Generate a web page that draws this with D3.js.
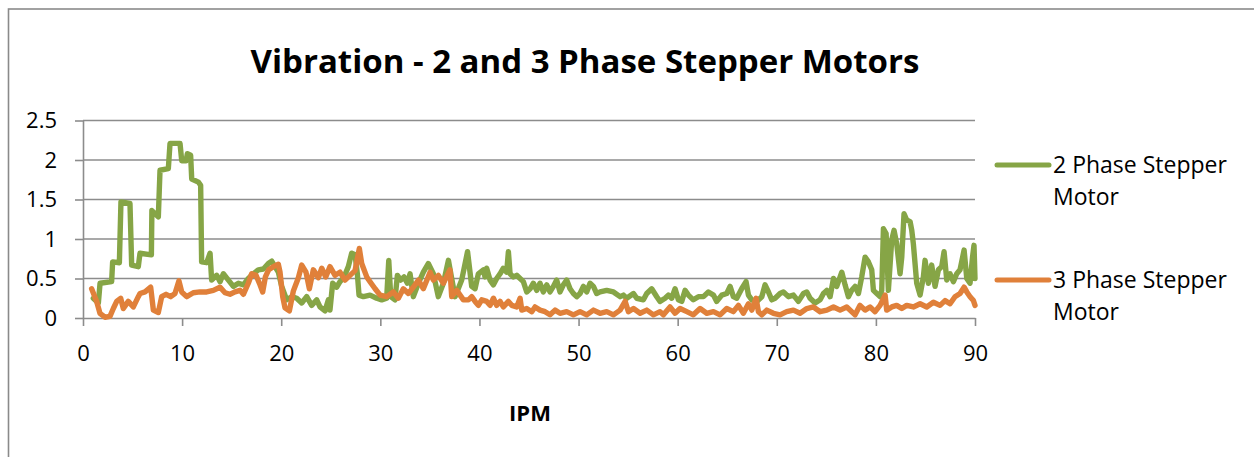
<!DOCTYPE html>
<meta charset="utf-8">
<script src="https://d3js.org/d3.v7.min.js"></script>
<style>
  body { margin: 0; background: #fff; font-family: 'Open Sans', sans-serif; }
  .grid line { stroke: #8c8c8c; stroke-width: 1.6; }
  .axis .domain, .axis line { stroke: #8c8c8c; stroke-width: 1.6; }
  .axis text { font-family: 'Open Sans', sans-serif; font-size: 22px; fill: #000; }
</style>
<body>
<svg width="1254" height="457"></svg>
</body>
<script>

// 2 Phase Stepper Motor
var ipm2 = [1.04,1.55,1.72,2.89,2.99,3.67,3.83,4.74,4.91,5.58,5.75,6.90,6.95,7.60,7.77,8.61,8.78,9.79,9.96,10.40,
  10.53,10.86,10.97,11.64,11.87,11.97,12.48,12.82,12.98,13.49,13.83,14.16,14.67,15.17,15.68,16.18,16.68,17.19,17.69,18.20,
  18.70,19.04,19.37,19.71,20.05,20.55,21.06,21.56,22.07,22.57,23.07,23.58,23.91,24.42,24.76,24.92,25.19,25.60,25.93,26.34,
  26.77,27.11,27.45,27.68,27.85,28.29,28.96,29.63,30.14,30.64,30.85,31.05,31.48,31.72,32.05,32.39,32.73,33.00,33.33,33.84,
  34.34,34.84,35.35,35.85,36.36,36.87,37.20,37.54,38.21,38.80,39.22,39.56,39.89,40.40,40.56,40.73,41.07,41.41,41.74,42.08,
  42.41,42.75,42.92,43.09,43.43,43.76,44.10,44.43,44.77,45.11,45.44,45.78,46.11,46.45,46.79,47.12,47.46,47.79,48.13,48.47,
  48.80,49.14,49.48,49.81,50.15,50.49,50.82,51.16,51.50,51.83,52.17,52.84,53.52,54.19,54.53,54.86,55.54,55.87,56.54,56.88,
  57.38,57.89,58.22,58.73,59.06,59.40,59.74,60.07,60.41,60.75,61.08,61.58,62.09,62.60,63.10,63.61,63.94,64.45,64.95,65.29,
  65.62,65.96,66.46,66.90,67.14,67.48,67.98,68.49,68.82,69.16,69.49,69.83,70.33,70.67,71.17,71.68,72.18,72.69,73.03,73.36,
  73.87,74.37,74.71,75.05,75.38,75.72,76.05,76.56,76.89,77.23,77.56,77.90,78.24,78.57,78.91,79.25,79.58,79.75,80.09,80.42,
  80.59,80.76,81.03,81.26,81.60,81.83,82.10,82.44,82.61,82.84,83.11,83.45,83.62,83.78,84.12,84.46,84.79,84.96,85.30,85.63,
  85.97,86.31,86.64,86.88,87.15,87.48,87.82,88.16,88.49,88.90,89.17,89.50,89.75,89.90,90.00];
var vib2 = [0.25,0.19,0.44,0.46,0.71,0.70,1.47,1.45,0.67,0.65,0.82,0.80,1.36,1.28,1.87,1.89,2.21,2.21,1.99,1.99,
  2.08,2.06,1.76,1.72,1.68,0.71,0.70,0.82,0.48,0.54,0.46,0.56,0.48,0.40,0.44,0.42,0.50,0.56,0.61,0.62,
  0.69,0.72,0.65,0.58,0.40,0.23,0.27,0.25,0.19,0.27,0.16,0.23,0.14,0.09,0.23,0.10,0.44,0.39,0.46,0.52,
  0.65,0.82,0.80,0.56,0.29,0.27,0.29,0.25,0.23,0.25,0.73,0.27,0.23,0.54,0.48,0.52,0.44,0.56,0.27,0.44,
  0.58,0.69,0.56,0.27,0.44,0.73,0.50,0.27,0.48,0.84,0.40,0.37,0.56,0.61,0.52,0.63,0.48,0.42,0.50,0.56,
  0.63,0.58,0.84,0.56,0.52,0.54,0.50,0.46,0.33,0.37,0.44,0.35,0.44,0.33,0.42,0.33,0.40,0.48,0.33,0.42,
  0.48,0.37,0.31,0.27,0.31,0.40,0.33,0.44,0.40,0.31,0.33,0.35,0.33,0.27,0.29,0.25,0.31,0.25,0.23,0.31,
  0.37,0.27,0.21,0.25,0.29,0.25,0.37,0.23,0.21,0.35,0.29,0.23,0.27,0.27,0.33,0.29,0.21,0.29,0.31,0.40,
  0.27,0.25,0.37,0.46,0.29,0.23,0.21,0.27,0.42,0.33,0.23,0.25,0.31,0.33,0.27,0.29,0.21,0.31,0.33,0.25,
  0.19,0.23,0.31,0.35,0.27,0.50,0.40,0.58,0.42,0.27,0.35,0.40,0.31,0.52,0.77,0.71,0.61,0.35,0.31,0.27,
  0.35,1.13,1.07,0.35,0.99,1.11,0.94,0.56,0.77,1.32,1.24,1.22,1.11,0.94,0.44,0.29,0.52,0.73,0.44,0.67,
  0.40,0.61,0.65,0.84,0.48,0.56,0.46,0.56,0.61,0.86,0.50,0.44,0.77,0.92,0.50];

// 3 Phase Stepper Motor
var ipm3 = [0.87,1.38,1.71,2.22,2.72,3.06,3.40,3.80,4.07,4.57,5.08,5.58,5.75,6.26,6.83,7.10,7.60,7.94,8.38,8.85,
  9.28,9.68,9.96,10.46,11.13,11.80,12.48,13.15,13.82,14.33,14.83,15.34,15.84,16.18,16.68,17.02,17.46,17.86,18.13,18.40,
  18.73,19.21,19.71,19.88,20.15,20.38,20.82,21.22,21.73,22.07,22.50,22.84,23.24,23.75,24.09,24.49,24.92,25.43,25.93,26.44,
  26.94,27.45,27.88,28.12,28.63,28.96,29.47,29.98,30.64,31.31,31.82,32.32,32.83,33.33,33.84,34.34,35.02,35.35,35.85,36.36,
  37.03,37.20,37.71,38.38,38.89,39.22,39.56,39.89,40.23,40.73,41.07,41.41,41.74,42.08,42.41,42.92,43.26,43.76,44.10,44.27,
  44.77,45.28,45.61,46.11,46.62,47.12,47.63,48.13,48.80,49.48,50.15,50.82,51.50,52.17,52.84,53.52,54.19,54.70,55.03,55.54,
  56.21,56.88,57.55,58.22,58.56,59.23,59.74,60.24,60.92,61.58,62.26,62.93,63.61,64.28,64.95,65.62,66.13,66.63,67.14,67.48,
  67.91,68.15,68.49,68.99,69.66,70.33,71.00,71.68,72.35,73.03,73.70,74.37,75.05,75.72,76.39,77.06,77.90,78.40,78.91,79.41,
  79.92,80.42,80.93,81.09,81.60,82.10,82.61,83.11,83.78,84.46,85.13,85.80,86.47,86.98,87.48,87.98,88.49,88.90,89.17,89.50,
  89.84,90.00];
var vib3 = [0.37,0.21,0.06,0.01,0.02,0.12,0.21,0.25,0.12,0.21,0.14,0.27,0.31,0.33,0.39,0.10,0.07,0.27,0.30,0.27,
  0.31,0.47,0.33,0.27,0.32,0.33,0.33,0.35,0.39,0.32,0.30,0.33,0.35,0.30,0.44,0.56,0.54,0.42,0.33,0.52,
  0.61,0.65,0.68,0.58,0.27,0.13,0.09,0.34,0.51,0.67,0.58,0.37,0.61,0.51,0.63,0.52,0.65,0.54,0.58,0.48,
  0.54,0.60,0.88,0.69,0.52,0.46,0.37,0.29,0.27,0.33,0.25,0.37,0.31,0.39,0.48,0.37,0.58,0.48,0.54,0.44,
  0.61,0.27,0.35,0.23,0.23,0.27,0.21,0.16,0.23,0.21,0.16,0.25,0.16,0.21,0.14,0.21,0.16,0.14,0.25,0.10,
  0.12,0.08,0.14,0.10,0.08,0.04,0.10,0.06,0.08,0.04,0.08,0.04,0.10,0.06,0.08,0.04,0.10,0.21,0.08,0.12,
  0.06,0.10,0.04,0.08,0.04,0.14,0.06,0.12,0.08,0.04,0.12,0.06,0.08,0.04,0.12,0.08,0.16,0.06,0.18,0.10,
  0.25,0.08,0.04,0.10,0.06,0.04,0.08,0.10,0.06,0.12,0.14,0.08,0.10,0.14,0.10,0.14,0.04,0.16,0.10,0.14,
  0.08,0.16,0.29,0.10,0.14,0.16,0.12,0.16,0.14,0.18,0.14,0.20,0.16,0.22,0.18,0.27,0.31,0.39,0.33,0.27,
  0.22,0.16];

var xTicks = [0, 10, 20, 30, 40, 50, 60, 70, 80, 90];
var yTicks = [0, 0.5, 1, 1.5, 2, 2.5];
var seriesNames = ["2 Phase Stepper Motor", "3 Phase Stepper Motor"];
var colors = ["#86a546", "#e0803a"];

var svg = d3.select("svg");

// outer chart border (right and bottom edges fall outside the picture)
svg.append("rect")
    .attr("x", 8.5).attr("y", 9)
    .attr("width", 1300).attr("height", 500)
    .attr("fill", "none")
    .attr("stroke", "#8a8a8a")
    .attr("stroke-width", 1.6);

var x = d3.scaleLinear().domain([0, 90]).range([83, 975]);
var y = d3.scaleLinear().domain([0, 2.5]).range([318, 120.5]);

// gridlines
svg.append("g")
    .attr("class", "grid")
  .selectAll("line")
  .data(yTicks.slice(1))
  .enter().append("line")
    .attr("x1", x(0)).attr("x2", x(90))
    .attr("y1", function(d) { return y(d); })
    .attr("y2", function(d) { return y(d); });

// y axis
svg.append("g")
    .attr("class", "axis")
    .attr("transform", "translate(" + x(0) + ",0)")
    .call(d3.axisLeft(y).tickValues(yTicks).tickSize(8).tickPadding(18).tickSizeOuter(0)
      .tickFormat(function(d) { return d; }));

// x axis
svg.append("g")
    .attr("class", "axis")
    .attr("transform", "translate(0," + y(0) + ")")
    .call(d3.axisBottom(x).tickValues(xTicks).tickSize(8).tickPadding(19).tickSizeOuter(0));

svg.selectAll(".axis text").attr("font-family", null).attr("font-size", null);

// the two series
var line = d3.line()
    .x(function(d) { return x(d[0]); })
    .y(function(d) { return y(d[1]); });

var data2 = ipm2.map(function(v, i) { return [v, vib2[i]]; });
var data3 = ipm3.map(function(v, i) { return [v, vib3[i]]; });

[data2, data3].forEach(function(d, i) {
  svg.append("path")
      .datum(d)
      .attr("fill", "none")
      .attr("stroke", colors[i])
      .attr("stroke-width", 5.4)
      .attr("stroke-linejoin", "round")
      .attr("stroke-linecap", "round")
      .attr("d", line);
});

// title
svg.append("text")
    .attr("x", 585)
    .attr("y", 73)
    .attr("text-anchor", "middle")
    .attr("font-size", 33)
    .attr("font-weight", "bold")
    .text("Vibration - 2 and 3 Phase Stepper Motors");

// x axis label
svg.append("text")
    .attr("x", 530)
    .attr("y", 421)
    .attr("text-anchor", "middle")
    .attr("font-size", 22)
    .attr("font-weight", "bold")
    .text("IPM");

// legend
var legend = svg.append("g")
  .selectAll("g")
  .data(seriesNames)
  .enter().append("g")
    .attr("transform", function(d, i) { return "translate(0," + (165 + i * 115) + ")"; });

legend.append("line")
    .attr("x1", 997).attr("x2", 1049)
    .attr("stroke", function(d, i) { return colors[i]; })
    .attr("stroke-width", 5)
    .attr("stroke-linecap", "round");

legend.append("text")
    .attr("x", 1053)
    .attr("y", 8)
    .attr("font-size", 23)
  .selectAll("tspan")
  .data(function(d) { return [d.replace(" Motor", ""), "Motor"]; })
  .enter().append("tspan")
    .attr("x", 1053)
    .attr("dy", function(d, i) { return i ? 32 : 0; })
    .text(function(d) { return d; });

</script>
